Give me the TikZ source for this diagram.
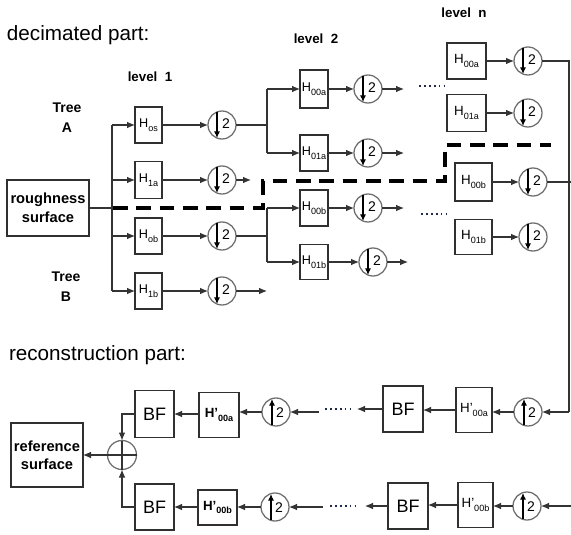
\documentclass[tikz,border=0pt]{standalone}
\usepackage{fontspec}
\setmainfont{Liberation Sans}
\usetikzlibrary{arrows.meta,calc}

\definecolor{wirec}{HTML}{333333}
\definecolor{circc}{HTML}{6E6E6E}
\definecolor{boxc}{HTML}{303030}
\definecolor{dotc}{HTML}{1E2A48}

\tikzset{
  every node/.style={inner sep=0pt, outer sep=0pt},
  box/.style 2 args={draw=boxc, line width=0.8pt, minimum width=#1*0.75pt, minimum height=#2*0.75pt},
  samp/.style={circle, draw=circc, line width=0.95pt, minimum size=28*0.75pt},
  wire/.style={draw=wirec, line width=0.8pt},
  arr/.style={wire, -{Latex[length=6pt,width=5pt]}},
  inarr/.style={draw=black, line width=0.85pt, -{Latex[length=5pt,width=4.6pt]}},
  dotline/.style={draw=dotc, line width=1.3pt, dash pattern=on 1.3pt off 2.4pt},
  dashline/.style={draw=black, line width=2.3pt, dash pattern=on 11pt off 6.5pt},
  lbl/.style={font=\bfseries\fontsize{10}{12}\selectfont},
  hf/.style={font=\fontsize{9.5}{11}\selectfont},
  hfn/.style={font=\fontsize{10}{12}\selectfont},
  bff/.style={font=\fontsize{13.5}{15}\selectfont},
}

\newcommand\Hs[2]{#1\raisebox{-0.28em}{\fontsize{6.8}{7}\selectfont #2}}

\newcommand\DownS[3]{%
  \node[samp] (#1) at (#2,#3) {};
  \draw[inarr] ([shift={(-5,-13.2)}]#1.center) -- ([shift={(-5,13)}]#1.center);
  \node[font=\fontsize{10.5}{11}\selectfont] (#1-two) at ([shift={(4,-1)}]#1.center) {2};
}
\newcommand\UpS[3]{%
  \node[samp] (#1) at (#2,#3) {};
  \draw[inarr] ([shift={(-4,13.2)}]#1.center) -- ([shift={(-4,-13)}]#1.center);
  \node[font=\fontsize{10.5}{11}\selectfont] (#1-two) at ([shift={(4,1)}]#1.center) {2};
}

\begin{document}
\begin{tikzpicture}[x=0.75pt,y=-0.75pt]
\useasboundingbox (0,0) rectangle (571,535);

% ---------- titles ----------
\node[anchor=west, font=\fontsize{15.5}{18}\selectfont] (dec) at (7,35) {decimated part:};
\node[anchor=west, font=\fontsize{15.5}{18}\selectfont] (rec) at (9,355) {reconstruction part:};
\node[lbl] (lv1) at (150,77) {level\ \ 1};
\node[lbl] (lv2) at (316,39) {level\ \ 2};
\node[lbl] (lvn) at (464,13) {level\ \ n};
\node[font=\bfseries\fontsize{10.5}{15}\selectfont, align=center] (treeA) at (67,118) {Tree\\A};
\node[font=\bfseries\fontsize{10.5}{15}\selectfont, align=center] (treeB) at (66,287) {Tree\\B};

% ---------- input ----------
\node[box={82}{56}, font=\bfseries\fontsize{11}{14.25}\selectfont, align=center] (rough) at (48,208) {roughness\\surface};
\coordinate (tk) at (112,208);
\coordinate (tkA) at (112,125);
\coordinate (tkB) at (112,291);
\draw[wire, line width=1.5pt] (rough.east) -- (tk);
\draw[wire] (tkA) -- (tkB);

% ---------- level 1 ----------
\node[box={27}{36}, hf] (hos) at (148.5,125) {\Hs{H}{os}};
\node[box={27}{37}, hf] (h1a) at (148.5,180) {\Hs{H}{1a}};
\node[box={27}{36}, hf] (hob) at (148.5,236) {\Hs{H}{ob}};
\node[box={27}{36}, hf] (h1b) at (148.5,291) {\Hs{H}{1b}};
\draw[arr] (tkA) -- (hos.west);
\draw[arr] (tk |- h1a.west) -- (h1a.west);
\draw[arr] (tk |- hob.west) -- (hob.west);
\draw[arr] (tkB) -- (h1b.west);

\DownS{d1}{222}{125}
\DownS{d2}{222}{180}
\DownS{d3}{222}{236}
\DownS{d4}{222}{291}
\draw[arr] (hos) -- (d1);
\draw[arr] (h1a) -- (d2);
\draw[arr] (hob) -- (d3);
\draw[arr] (h1b) -- (d4);

\coordinate (v2a) at (267,125);
\coordinate (v2aT) at (267,89);
\coordinate (v2aB) at (267,153);
\coordinate (v2b) at (267,236);
\coordinate (v2bT) at (267,208);
\coordinate (v2bB) at (267,262);
\coordinate (o1a) at (251,180);
\coordinate (o1b) at (267,291);
\draw[wire] (d1) -- (v2a);
\draw[wire, line width=1.5pt] (d3) -- (v2b);
\draw[arr] (d2) -- (o1a);
\draw[arr] (d4) -- (o1b);
\draw[wire] (v2aT) -- (v2aB);
\draw[wire] (v2bT) -- (v2bB);

% ---------- level 2 ----------
\node[box={28}{38}, hf] (h00a) at (314,89) {\Hs{H}{00a}};
\node[box={28}{36}, hf] (h01a) at (314,153) {\Hs{H}{01a}};
\node[box={28}{36}, hf] (h00b) at (314,208) {\Hs{H}{00b}};
\node[box={28}{35}, hf] (h01b) at (314,262) {\Hs{H}{01b}};
\draw[arr] (v2aT) -- (h00a.west);
\draw[arr] (v2aB) -- (h01a.west);
\draw[arr] (v2bT) -- (h00b.west);
\draw[arr] (v2bB) -- (h01b.west);

\DownS{e1}{368}{89}
\DownS{e2}{368}{153}
\DownS{e3}{368}{208}
\DownS{e4}{373}{262}
\draw[arr] (h00a) -- (e1);
\draw[arr] (h01a) -- (e2);
\draw[arr] (h00b) -- (e3);
\draw[arr] (h01b) -- (e4);
\coordinate (o2a) at (404,89);
\coordinate (o2b) at (404,153);
\coordinate (o2c) at (404,208);
\coordinate (o2d) at (408,262);
\draw[arr] (e1) -- (o2a);
\draw[arr] (e2) -- (o2b);
\draw[arr] (e3) -- (o2c);
\draw[arr] (e4) -- (o2d);

\coordinate (dA1) at (419,86);
\coordinate (dA2) at (448,86);
\coordinate (dB1) at (421,214);
\coordinate (dB2) at (450,214);
\draw[dotline] (dA1) -- (dA2);
\draw[dotline] (dB1) -- (dB2);

% ---------- level n ----------
\node[box={39}{36}, hfn] (n00a) at (466.5,61) {\Hs{H}{00a}};
\node[box={39}{37}, hfn] (n01a) at (466.5,113) {\Hs{H}{01a}};
\node[box={37}{38}, hfn] (n00b) at (473.5,182) {\Hs{H}{00b}};
\node[box={37}{35}, hfn] (n01b) at (473.5,237) {\Hs{H}{01b}};
\DownS{f1}{528}{61}
\DownS{f2}{528}{113}
\DownS{f3}{533}{182}
\DownS{f4}{533}{237}
\draw[arr] (n00a) -- (f1);
\draw[arr] (n01a) -- (f2);
\draw[arr] (n00b) -- (f3);
\draw[arr] (n01b) -- (f4);

% ---------- dashed separator ----------
\coordinate (s0) at (113,208);
\coordinate (s1) at (263,208);
\coordinate (s2) at (263,181);
\coordinate (s3) at (445,181);
\coordinate (s4) at (445,145);
\coordinate (s5) at (551,145);
\draw[dashline] (s0) -- (s1) -- (s2) -- (s3) -- (s4) -- (s5);

% ---------- right wiring ----------
\coordinate (rTop) at (569,61);
\coordinate (rBot) at (569,412);
\coordinate (rMid) at (571,182);
\coordinate (rIn2) at (571,506);

% ---------- reconstruction, upper row ----------
\UpS{u1}{528}{412}
\node[box={36}{45}, hfn] (hp1r) at (474,410) {\Hs{H’}{00a}};
\node[box={40}{46}, bff] (bf1r) at (403,409) {BF};
\coordinate (a1s) at (357,409);
\coordinate (q1a) at (325,409);
\coordinate (q1b) at (354,409);
\coordinate (a1b) at (319,412);
\UpS{u3}{276}{412}
\node[box={40}{45}, hfn, font=\bfseries\fontsize{10}{12}\selectfont] (hp1l) at (219,415) {\Hs{H’}{\bfseries 00a}};
\node[box={39}{47}, bff] (bf1l) at (154.5,414) {BF};
\coordinate (j1) at (122,414);

\draw[wire] (f1) -- (rTop) -- (rBot);
\draw[arr] (rBot) -- (u1);
\draw[wire] (f3) -- (rMid);
\draw[arr] (u1) -- (u1 -| hp1r.east);
\draw[arr] (hp1r.west) -- (hp1r.west -| bf1r.east);
\draw[arr] (bf1r.west) -- (a1s);
\draw[dotline] (q1a) -- (q1b);
\draw[arr] (a1b) -- (u3);
\draw[arr] (u3) -- (u3 -| hp1l.east);
\draw[arr] (hp1l.west |- bf1l.east) -- (bf1l.east);

% ---------- reconstruction, lower row ----------
\UpS{u2}{527}{506}
\node[box={35}{45}, hfn] (hp2r) at (475.5,505) {\Hs{H’}{00b}};
\node[box={40}{46}, bff] (bf2r) at (408,506) {BF};
\coordinate (a2s) at (365,506);
\coordinate (q2a) at (330,506);
\coordinate (q2b) at (358,506);
\coordinate (a2b) at (323,507);
\UpS{u4}{275}{507}
\node[box={39}{35}, hfn, font=\bfseries\fontsize{10}{12}\selectfont] (hp2l) at (217.5,507.5) {\Hs{H’}{\bfseries 00b}};
\node[box={39}{46}, bff] (bf2l) at (154.5,507) {BF};
\coordinate (j2) at (122,507);

\draw[arr] (rIn2) -- (u2);
\draw[arr] (u2) -- (u2 -| hp2r.east);
\draw[arr] (hp2r.west) -- (hp2r.west -| bf2r.east);
\draw[arr] (bf2r.west) -- (a2s);
\draw[dotline] (q2a) -- (q2b);
\draw[arr] (a2b) -- (u4);
\draw[arr] (u4) -- (u4 -| hp2l.east);
\draw[arr] (hp2l.west |- bf2l.east) -- (bf2l.east);

% ---------- summation and output ----------
\node[circle, draw=circc, line width=0.95pt, minimum size=29*0.75pt] (sum) at (122,455) {};
\draw[wire] (sum.north) -- (sum.south);
\draw[wire] (sum.west) -- (sum.east);
\node[box={72}{64}, font=\bfseries\fontsize{11}{13.5}\selectfont, align=center] (ref) at (47,455) {reference\\surface};
\draw[arr] (bf1l.west) -- (j1) -- (sum);
\draw[arr] (bf2l.west) -- (j2) -- (sum);
\draw[arr] (sum) -- (ref);
\end{tikzpicture}
\end{document}
